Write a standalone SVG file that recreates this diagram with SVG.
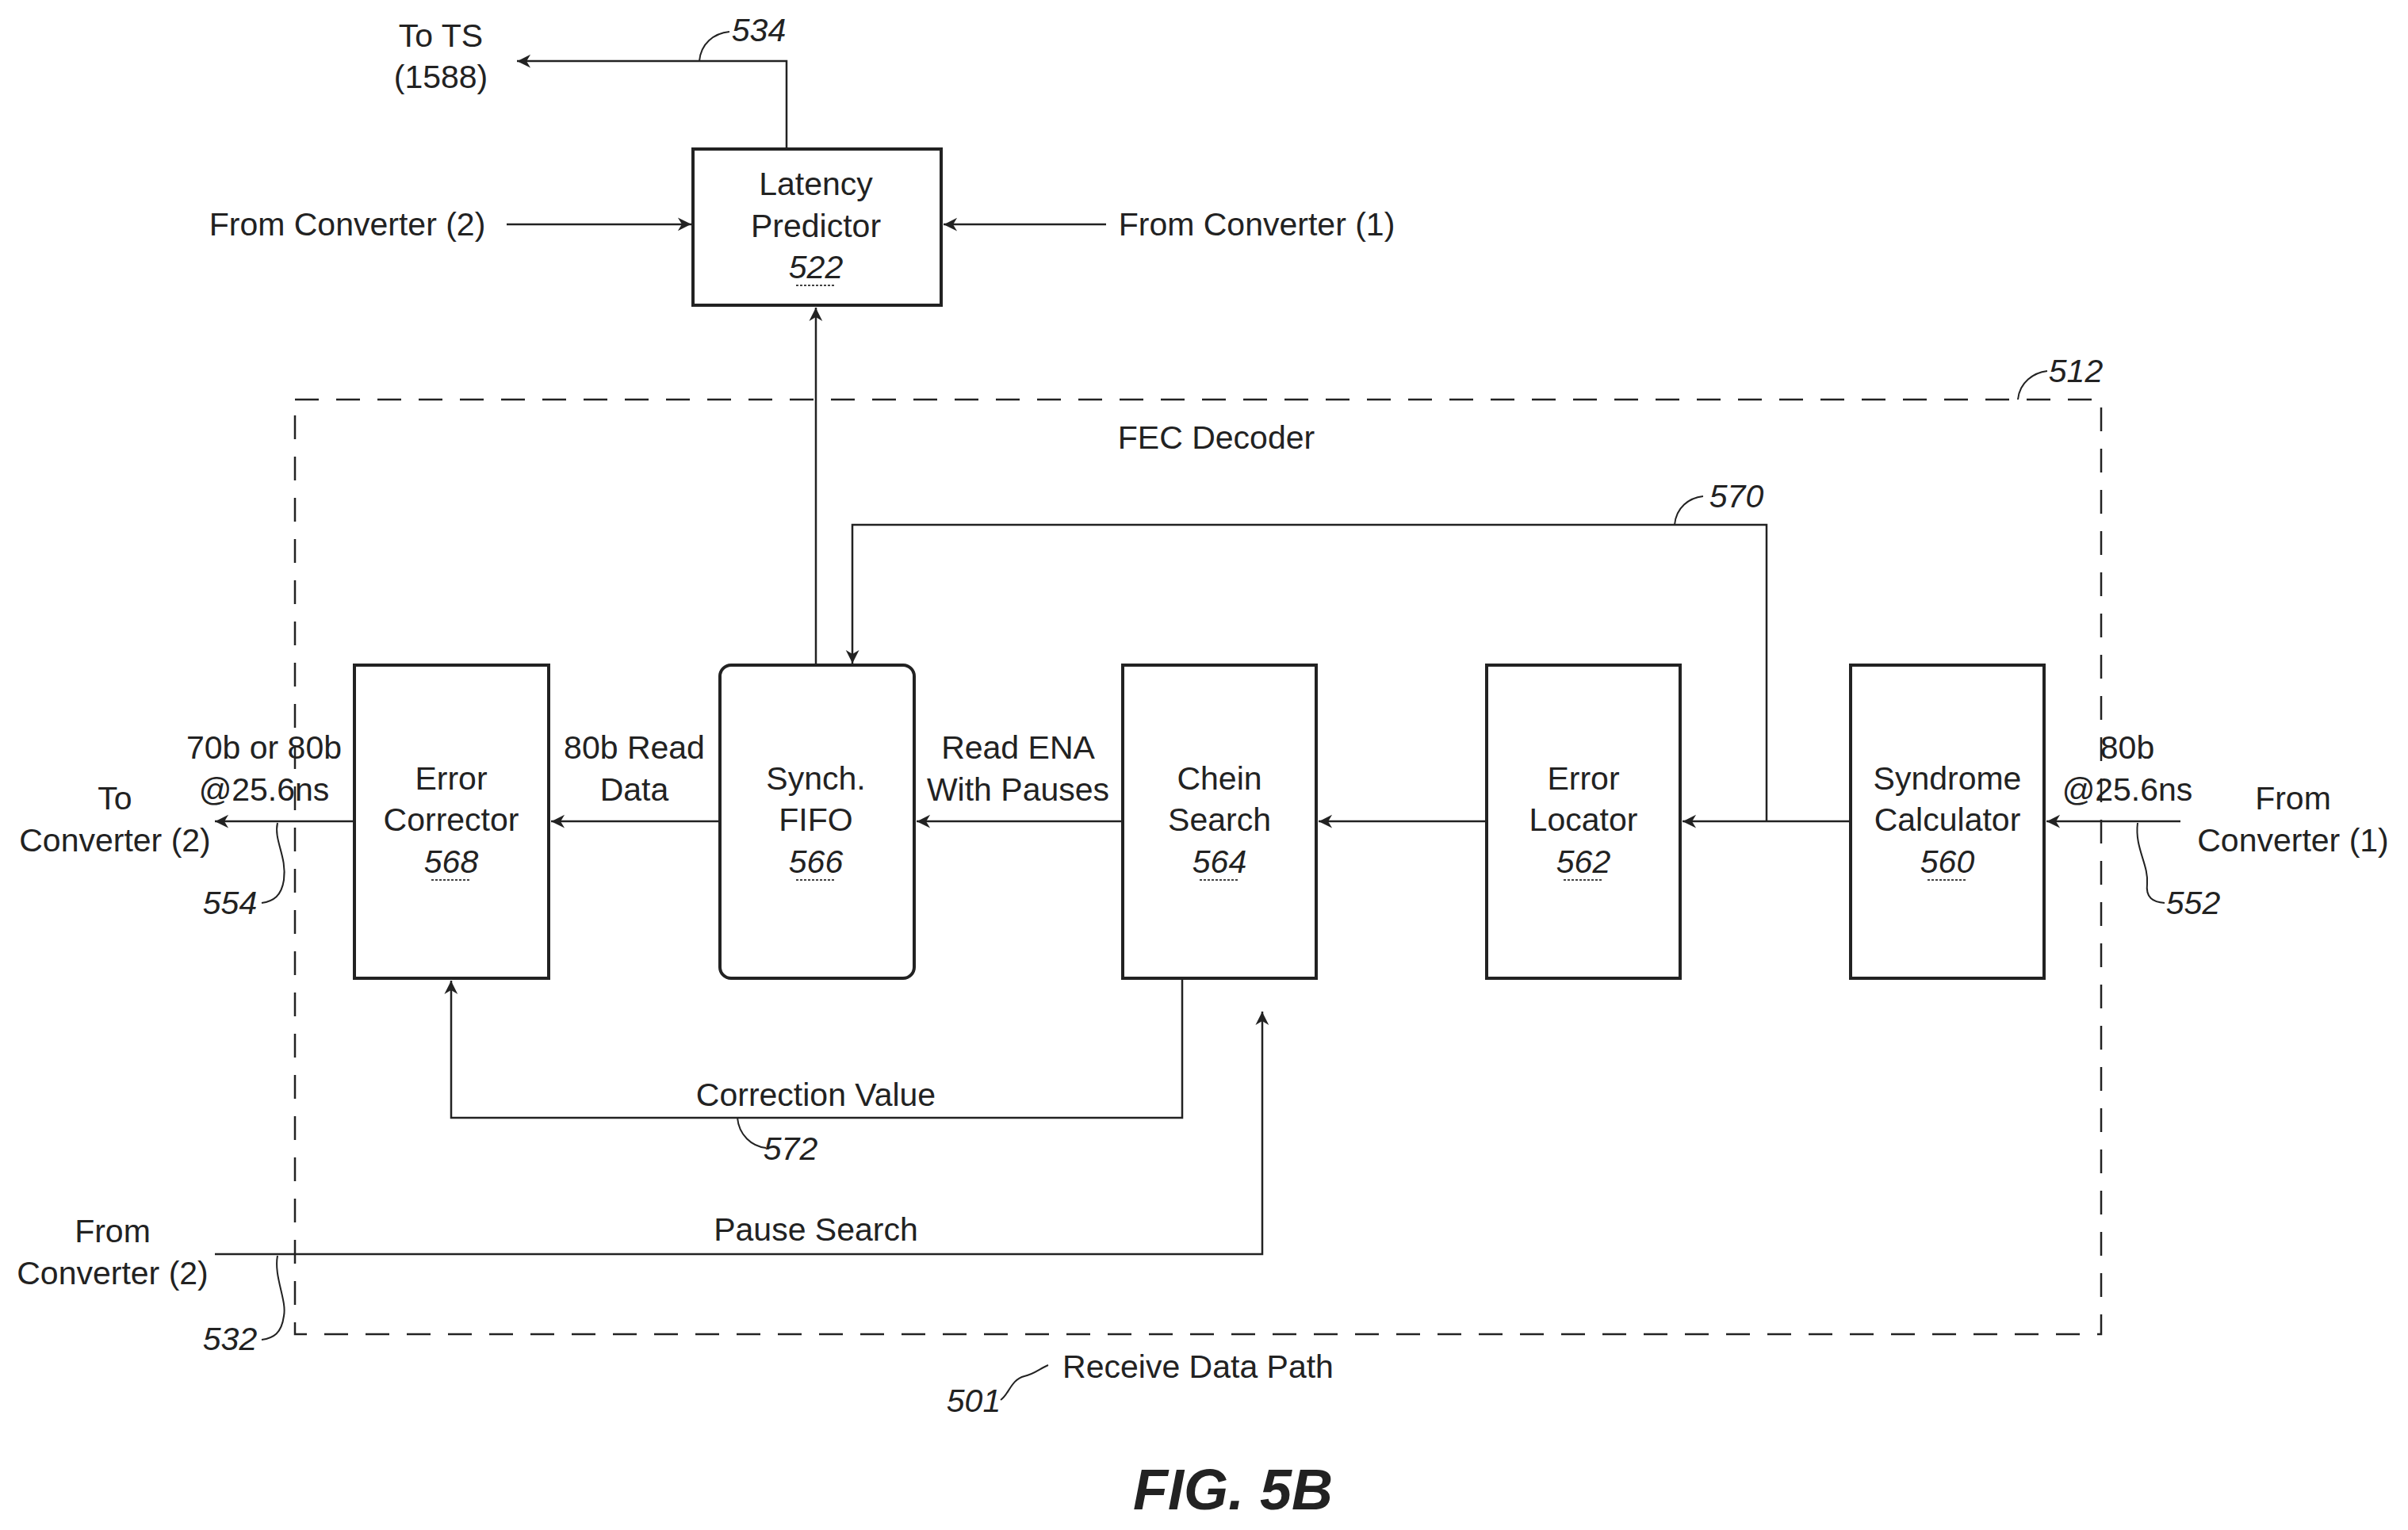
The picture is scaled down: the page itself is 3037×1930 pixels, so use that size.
<svg xmlns="http://www.w3.org/2000/svg" width="3037" height="1930" viewBox="0 0 3037 1930">
<style>
text{font-family:"Liberation Sans",Arial,sans-serif;font-size:41px;fill:#222;text-anchor:middle}
.n{font-style:italic}
.box{fill:#fff;stroke:#222;stroke-width:4}
.ln{fill:none;stroke:#222;stroke-width:2.5}
.ld{fill:none;stroke:#222;stroke-width:2}
.ul{stroke:#444;stroke-width:2;stroke-dasharray:3 2}
</style>
<defs><marker id="a" viewBox="0 0 10 10" refX="10" refY="5" markerWidth="7" markerHeight="7" markerUnits="userSpaceOnUse" orient="auto" style="overflow:visible"><path d="M0,0 L10,5 L0,10 L3,5 z" fill="#222" transform="scale(2.4) translate(-6,-3)"/></marker></defs>
<rect x="372" y="504" width="2278" height="1179" fill="none" stroke="#222" stroke-width="2.5" stroke-dasharray="30 22"/>
<g id="connectors">
<path class="ln" marker-end="url(#a)" d="M992,188 V77 H652"/>
<path class="ln" marker-end="url(#a)" d="M639,283 H872"/>
<path class="ln" marker-end="url(#a)" d="M1395,283 H1190"/>
<path class="ln" marker-end="url(#a)" d="M1029,839 V388"/>
<path class="ln" marker-end="url(#a)" d="M2228,1036 V662 H1075 V837"/>
<path class="ln" marker-end="url(#a)" d="M2750,1036 H2581"/>
<path class="ln" marker-end="url(#a)" d="M2334,1036 H2122"/>
<path class="ln" marker-end="url(#a)" d="M1875,1036 H1663"/>
<path class="ln" marker-end="url(#a)" d="M1416,1036 H1156"/>
<path class="ln" marker-end="url(#a)" d="M908,1036 H695"/>
<path class="ln" marker-end="url(#a)" d="M447,1036 H271"/>
<path class="ln" marker-end="url(#a)" d="M1491,1234 V1410 H569 V1237"/>
<path class="ln" marker-end="url(#a)" d="M271,1582 H1592 V1276"/>
</g>
<g id="leaders">
<path class="ld" d="M882,77 C884,55 900,42 920,40"/>
<path class="ld" d="M2545,504 C2547,482 2565,470 2582,468"/>
<path class="ld" d="M2112,662 C2114,640 2130,628 2148,626"/>
<path class="ld" d="M930,1410 C932,1432 948,1446 966,1448"/>
<path class="ld" d="M350,1038 C345,1060 362,1080 358,1110 C355,1130 345,1137 330,1139"/>
<path class="ld" d="M2696,1038 C2692,1070 2710,1090 2708,1115 C2706,1132 2715,1138 2730,1139"/>
<path class="ld" d="M350,1584 C345,1610 362,1640 358,1660 C355,1682 345,1688 330,1690"/>
<path class="ld" d="M1262,1766 C1272,1760 1275,1740 1292,1736 C1305,1733 1312,1726 1322,1722"/>
</g>
<g id="latency"><rect class="box" x="874" y="188" width="313" height="197"/><text x="1029" y="246">Latency</text><text x="1029" y="299">Predictor</text><text class="n" x="1029" y="351">522</text><line class="ul" x1="1004" y1="360" x2="1054" y2="360"/></g>
<g id="corrector"><rect class="box" x="447" y="839" width="245" height="395"/><text x="569" y="996">Error</text><text x="569" y="1048">Corrector</text><text class="n" x="569" y="1101">568</text><line class="ul" x1="544" y1="1110" x2="594" y2="1110"/></g>
<g id="fifo"><rect class="box" x="908" y="839" width="245" height="395" rx="14"/><text x="1029" y="996">Synch.</text><text x="1029" y="1048">FIFO</text><text class="n" x="1029" y="1101">566</text><line class="ul" x1="1004" y1="1110" x2="1054" y2="1110"/></g>
<g id="chein"><rect class="box" x="1416" y="839" width="244" height="395"/><text x="1538" y="996">Chein</text><text x="1538" y="1048">Search</text><text class="n" x="1538" y="1101">564</text><line class="ul" x1="1513" y1="1110" x2="1563" y2="1110"/></g>
<g id="locator"><rect class="box" x="1875" y="839" width="244" height="395"/><text x="1997" y="996">Error</text><text x="1997" y="1048">Locator</text><text class="n" x="1997" y="1101">562</text><line class="ul" x1="1972" y1="1110" x2="2022" y2="1110"/></g>
<g id="syndrome"><rect class="box" x="2334" y="839" width="244" height="395"/><text x="2456" y="996">Syndrome</text><text x="2456" y="1048">Calculator</text><text class="n" x="2456" y="1101">560</text><line class="ul" x1="2431" y1="1110" x2="2481" y2="1110"/></g>
<g id="labels">
<text x="556" y="59">To TS</text><text x="556" y="111">(1588)</text>
<text class="n" x="957" y="52">534</text>
<text x="438" y="297">From Converter (2)</text>
<text x="1585" y="297">From Converter (1)</text>
<text x="1534" y="566">FEC Decoder</text>
<text class="n" x="2618" y="482">512</text>
<text class="n" x="2190" y="640">570</text>
<text x="333" y="957">70b or 80b</text><text x="333" y="1010">@25.6ns</text>
<text x="145" y="1021">To</text><text x="145" y="1074">Converter (2)</text>
<text class="n" x="290" y="1153">554</text>
<text x="800" y="957">80b Read</text><text x="800" y="1010">Data</text>
<text x="1284" y="957">Read ENA</text><text x="1284" y="1010">With Pauses</text>
<text x="2683" y="957">80b</text><text x="2683" y="1010">@25.6ns</text>
<text x="2892" y="1021">From</text><text x="2892" y="1074">Converter (1)</text>
<text class="n" x="2766" y="1153">552</text>
<text x="1029" y="1395">Correction Value</text>
<text class="n" x="997" y="1463">572</text>
<text x="1029" y="1565">Pause Search</text>
<text x="142" y="1567">From</text><text x="142" y="1620">Converter (2)</text>
<text class="n" x="290" y="1703">532</text>
<text class="n" x="1228" y="1781">501</text>
<text x="1511" y="1738">Receive Data Path</text>
<text x="1555" y="1904" style="font-size:72px;font-weight:bold;font-style:italic">FIG. 5B</text>
</g>
</svg>
